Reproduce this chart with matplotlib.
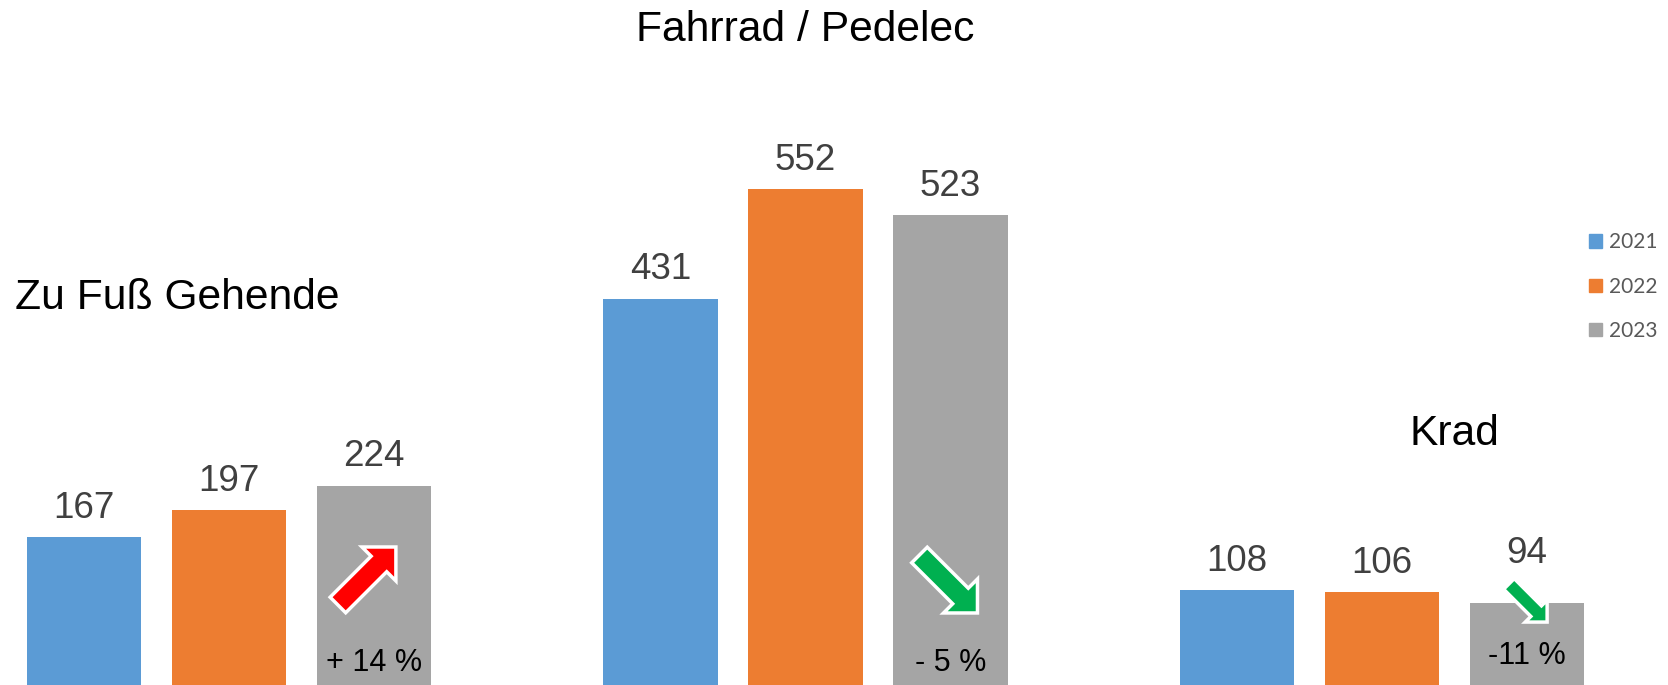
import matplotlib
matplotlib.use("Agg")
import matplotlib.pyplot as plt
import numpy as np
from matplotlib.patches import Patch, Polygon
from matplotlib.transforms import Affine2D

categories = ["Zu Fuß Gehende", "Fahrrad / Pedelec", "Krad"]
years = ["2021", "2022", "2023"]
v2021 = [167, 431, 108]
v2022 = [197, 552, 106]
v2023 = [224, 523, 94]
change_labels = ["+ 14 %", "- 5 %", "-11 %"]
trend = ["up", "down", "down"]

COLORS = ["#5B9BD5", "#ED7D31", "#A5A5A5"]
FONT = "Liberation Sans"

W, H, DPI = 1668, 685, 100
fig = plt.figure(figsize=(W / DPI, H / DPI), dpi=DPI)
ax = fig.add_axes([0, 0, 1, 1])
ax.set_xlim(-0.397, 2.496)
ax.set_ylim(3.3, 3.3 + H / 0.9035)
ax.axis("off")

x = np.arange(len(categories))
width = 0.198
step = 0.2515
series = [v2021, v2022, v2023]
# value label offsets in points (Krad 2023 label lifted above the arrow)
label_lift = [[14, 14, 14], [14, 14, 14], [14, 14, 29]]
for i, vals in enumerate(series):
    bars = ax.bar(x + (i - 1) * step, vals, width, color=COLORS[i], label=years[i])
    for j, (rect, v) in enumerate(zip(bars, vals)):
        ax.annotate(str(v), (rect.get_x() + rect.get_width() / 2, v),
                    xytext=(0, label_lift[i][j]), textcoords="offset points",
                    ha="center", va="baseline", fontsize=26.5,
                    family=FONT, color="#404040", annotation_clip=False)

# group titles (axes fraction positions)
title_pos = [(15, 298, "left"), (805, 30, "center"), (1454, 434, "center")]
for name, (px, py, ha) in zip(categories, title_pos):
    ax.text(px / W, 1 - py / H, name, transform=ax.transAxes, ha=ha, va="center",
            fontsize=30.7, family=FONT, color="black")

# change labels inside the 2023 bars
label_off = [12, 12, 17]
for xi, lab, off in zip(x, change_labels, label_off):
    ax.annotate(lab, (xi + step, 0), xytext=(0, off), textcoords="offset points",
                ha="center", va="baseline", fontsize=22, family=FONT, color="black",
                annotation_clip=False)


def block_arrow(length, shaft, head_w):
    head_l = head_w / 2
    L = length / 2
    return np.array([
        [-L, -shaft / 2], [L - head_l, -shaft / 2], [L - head_l, -head_w / 2],
        [L, 0], [L - head_l, head_w / 2], [L - head_l, shaft / 2], [-L, shaft / 2],
    ])


# arrow specs: x offset px from bar centre, height px above zero, size
arrow_spec = [(-7, 112, 82, 22, 48), (-2, 104, 82, 22, 48), (1, 85, 54, 15, 31)]
for xi, t, (dx, dy, length, shaft, hw) in zip(x, trend, arrow_spec):
    cx, cy = ax.transData.transform((xi + step, 0))
    angle = 45 if t == "up" else -45
    col = "#FF0000" if t == "up" else "#00B050"
    tr = Affine2D().rotate_deg(angle).translate(cx + dx, cy + dy)
    ax.add_patch(Polygon(block_arrow(length, shaft, hw), closed=True, transform=tr,
                         facecolor=col, edgecolor="white", linewidth=2.5, zorder=5))

handles = [Patch(color=c) for c in COLORS]
fig.legend(handles, years, loc="upper left", bbox_to_anchor=(1579 / W, 1 - 222 / H),
           frameon=False, prop={"family": "Lato", "size": 15},
           handlelength=0.62, handleheight=0.62, handletextpad=0.3,
           labelspacing=1.16, borderpad=0, labelcolor="#595959")

fig.savefig("out.png", dpi=DPI)
